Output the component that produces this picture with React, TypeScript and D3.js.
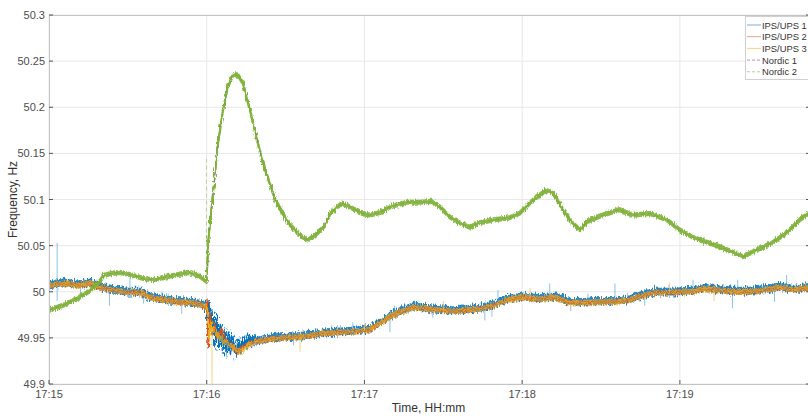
import React, { useEffect, useRef } from 'react';
import * as d3 from 'd3';

// time axis in seconds after 17:15:00
const xTickSecs = [0, 60, 120, 180, 240];
const xTickLabels = ['17:15', '17:16', '17:17', '17:18', '17:19'];
const yTicks = [49.9, 49.95, 50, 50.05, 50.1, 50.15, 50.2, 50.25, 50.3];
const seriesNames = ['IPS/UPS 1', 'IPS/UPS 2', 'IPS/UPS 3', 'Nordic 1', 'Nordic 2'];
const seriesColors = ['#0072BD', '#D95319', '#EDB120', '#7E2F8E', '#77AC30'];

// [seconds, Hz]
const ipsBefore: [number, number][] = [
  [0, 50.007], [3, 50.008], [6, 50.009], [11, 50.007], [16, 50.009], [18.6, 50.005],
  [24, 50.002], [30, 49.999], [35, 49.999], [39, 49.993], [44, 49.991], [49, 49.989],
  [54, 49.988], [57.4, 49.986],
];
const ips1Event: [number, number][] = [
  [59.5, 49.985], [60.2, 49.97], [60.8, 49.985], [61.5, 49.96], [62.2, 49.975], [63, 49.944],
  [63.6, 49.972], [64.4, 49.94], [65.2, 49.96], [66, 49.937], [66.8, 49.955], [67.6, 49.933],
  [68.4, 49.952], [69.2, 49.934], [70, 49.948], [71, 49.93], [72, 49.945], [73, 49.935],
  [74, 49.948], [75, 49.94], [76, 49.95], [77, 49.943], [78, 49.949],
];
const ips2Event: [number, number][] = [
  [59.7, 49.983], [60.2, 49.99], [60.6, 49.94], [61.2, 49.975], [62, 49.955], [63, 49.965],
  [64, 49.952], [65.5, 49.958], [67, 49.948], [68.5, 49.945], [70, 49.94], [71.5, 49.935],
  [73, 49.938], [75, 49.942], [77, 49.945],
];
const ips3Event: [number, number][] = [
  [59.8, 49.984], [60.4, 49.975], [61, 49.95], [61.6, 49.965], [62.4, 49.96], [63.5, 49.955],
  [65, 49.95], [67, 49.945], [69, 49.942], [71, 49.937], [73, 49.935], [75, 49.94], [77, 49.944],
];
const ipsAfter: [number, number][] = [
  [79, 49.946], [83, 49.948], [89, 49.95], [95.5, 49.951], [100, 49.953], [105.7, 49.955],
  [110.7, 49.956], [117, 49.957], [122, 49.959], [126, 49.966], [129.7, 49.973], [133.5, 49.978],
  [138.5, 49.983], [142, 49.982], [148.7, 49.98], [153.6, 49.979], [159, 49.98], [165, 49.982],
  [170, 49.986], [174, 49.991], [180, 49.994], [186.7, 49.992], [193, 49.994], [198, 49.988],
  [203, 49.988], [209.5, 49.989], [216, 49.989], [221, 49.991], [226, 49.996], [231, 49.999],
  [237, 49.999], [244, 50.0], [249, 50.003], [254, 50.002], [260, 50.0], [266.6, 50.0],
  [273, 50.002], [278, 50.005], [283, 50.002], [288, 50.004], [289.5, 50.004],
];
const ips1 = [...ipsBefore, ...ips1Event, ...ipsAfter];
const ips2 = [...ipsBefore, ...ips2Event, ...ipsAfter];
const ips3 = [...ipsBefore, ...ips3Event, ...ipsAfter];

// [seconds, from Hz, to Hz]
const ips1Spikes: [number, number, number][] = [
  [3.1, 49.99, 50.053], [30.8, 49.998, 50.015], [23, 49.985, 50.004], [43, 49.99, 50.0],
  [12, 50.007, 49.992], [36, 49.999, 49.987], [50.5, 49.989, 49.976],
  [107.6, 49.955, 49.964], [115.6, 49.957, 49.967], [129.7, 49.973, 49.956], [131.5, 49.975, 49.985],
  [165.8, 49.982, 49.969], [168.5, 49.986, 49.973], [170.8, 49.986, 50.002], [190.5, 49.992, 50.009],
  [205, 49.988, 49.998], [215.3, 49.989, 50.009], [226.6, 49.996, 49.985], [245, 50.0, 50.013],
  [260, 50.0, 49.982], [262, 50.0, 50.013], [276, 50.003, 49.989], [280.6, 50.004, 50.018],
  [93, 49.951, 49.942], [146, 49.981, 49.972], [198.5, 49.988, 49.979],
];
const ips3Spikes: [number, number, number][] = [
  [62, 49.96, 49.9], [95.5, 49.951, 49.935], [120, 49.958, 49.965], [236, 49.999, 50.01],
  [183, 49.993, 50.004], [150, 49.98, 49.99], [253, 50.002, 49.99],
];

const nordic: [number, number][] = [
  [0, 49.98], [6, 49.986], [11, 49.993], [15, 50.0], [18.6, 50.009], [21, 50.018], [24, 50.02],
  [27, 50.021], [31.6, 50.018], [36.5, 50.014], [40, 50.013], [43, 50.015], [48, 50.018],
  [53, 50.021], [56.7, 50.018], [60, 50.011], [60.6, 50.056], [62.4, 50.107], [64.3, 50.161],
  [66.2, 50.197], [68, 50.222], [70, 50.235], [71.9, 50.235], [73.8, 50.226], [76.4, 50.197],
  [81, 50.143], [86, 50.1], [90.9, 50.075], [96.2, 50.059], [98.5, 50.056], [102.3, 50.064],
  [105, 50.072], [107, 50.085], [111.4, 50.096], [114.5, 50.092], [119, 50.085], [122, 50.083],
  [126, 50.086], [129.7, 50.092], [136, 50.097], [141, 50.097], [145.6, 50.098], [148.7, 50.092],
  [152.5, 50.081], [156, 50.075], [160, 50.07], [164, 50.075], [169, 50.078], [175, 50.08],
  [179, 50.085], [184, 50.099], [189, 50.11], [191.7, 50.107], [195.5, 50.089], [199, 50.075],
  [202, 50.067], [204.6, 50.076], [209.6, 50.082], [217, 50.089], [222, 50.083], [228.6, 50.085],
  [235, 50.078], [240, 50.067], [245, 50.059], [250, 50.054], [255, 50.049], [260, 50.043],
  [264, 50.038], [269, 50.045], [275, 50.053], [280.7, 50.064], [285.6, 50.078], [289.5, 50.086],
];
const nordicSpikes: [number, number, number][] = [[59.9, 50.011, 50.148]];

export default function App() {
  const ref = useRef<SVGSVGElement>(null);

  useEffect(() => {
    const width = 808;
    const height = 416;
    const margin = { top: 15, left: 49, bottom: 384, right: 810 };

    const svg = d3.select(ref.current);
    svg.selectAll('*').remove();

    const x = d3.scaleLinear().domain([0, 289.5]).range([margin.left, margin.right]);
    const y = d3.scaleLinear().domain([49.9, 50.3]).range([margin.bottom, margin.top]);
    const font = 'Liberation Sans, Arial, sans-serif';

    svg.append('rect').attr('width', width).attr('height', height).attr('fill', '#fff');

    // jitter filters so the bands look like sampled noisy signals
    const defs = svg.append('defs');
    [3, 11, 23, 41].forEach((seed, i) => {
      const f = defs.append('filter').attr('id', `jit${i}`)
        .attr('filterUnits', 'userSpaceOnUse')
        .attr('x', margin.left - 5).attr('y', margin.top - 5)
        .attr('width', margin.right - margin.left + 10).attr('height', margin.bottom - margin.top + 10);
      f.append('feTurbulence').attr('type', 'fractalNoise')
        .attr('baseFrequency', '0.9 0.25').attr('numOctaves', 1).attr('seed', seed).attr('result', 't');
      f.append('feDisplacementMap').attr('in', 'SourceGraphic').attr('in2', 't')
        .attr('scale', [9, 7, 7, 5][i]).attr('xChannelSelector', 'B').attr('yChannelSelector', 'G');
    });

    // grid
    const grid = svg.append('g');
    grid.selectAll('line.gy').data(yTicks).join('line')
      .attr('x1', margin.left).attr('x2', margin.right)
      .attr('y1', d => y(d)).attr('y2', d => y(d))
      .attr('stroke', '#e8e8e8').attr('stroke-width', 1);
    grid.selectAll('line.gx').data(xTickSecs).join('line')
      .attr('x1', d => x(d)).attr('x2', d => x(d))
      .attr('y1', margin.top).attr('y2', margin.bottom)
      .attr('stroke', '#e8e8e8').attr('stroke-width', 1);

    svg.append('clipPath').attr('id', 'plotclip')
      .append('rect').attr('x', margin.left).attr('y', margin.top)
      .attr('width', margin.right - margin.left).attr('height', margin.bottom - margin.top);

    const plot = svg.append('g').attr('clip-path', 'url(#plotclip)');
    const line = d3.line<[number, number]>().x(d => x(d[0])).y(d => y(d[1]));

    const band = (data: [number, number][], color: string, offsets: number[], w: number, op: number, filt: string) => {
      const g = plot.append('g').attr('filter', `url(#${filt})`);
      offsets.forEach(dy => {
        g.append('path').attr('d', line(data))
          .attr('transform', `translate(0,${dy})`)
          .attr('fill', 'none').attr('stroke', color)
          .attr('stroke-width', w).attr('stroke-opacity', op)
          .attr('stroke-linejoin', 'round');
      });
    };
    const spikes = (data: [number, number, number][], color: string, op: number, dash?: string) => {
      plot.append('g').selectAll('line').data(data).join('line')
        .attr('x1', d => x(d[0])).attr('x2', d => x(d[0]))
        .attr('y1', d => y(d[1])).attr('y2', d => y(d[2]))
        .attr('stroke', color).attr('stroke-width', 1).attr('stroke-opacity', op)
        .attr('stroke-dasharray', dash ?? null);
    };

    band(ips1, seriesColors[0], [-4, -2.5, -1, 0.5, 2], 1.8, 0.85, 'jit0');
    spikes(ips1Spikes, '#4da3dd', 0.65);
    band(ips2, seriesColors[1], [-1.5, 0, 1.5], 1.4, 0.8, 'jit1');
    band(ips3, seriesColors[2], [-2, 0, 2], 1.4, 0.75, 'jit2');
    spikes(ips3Spikes, '#f2c45a', 0.8);
    plot.append('path').attr('d', line(nordic))
      .attr('fill', 'none').attr('stroke', seriesColors[3]).attr('stroke-width', 1)
      .attr('stroke-dasharray', '4,3');
    spikes(nordicSpikes, '#b5cf8e', 0.9, '4,3');
    band(nordic, '#7fb33a', [-1.8, -0.6, 0.6, 1.8], 1.6, 0.9, 'jit3');

    // axes box
    svg.append('rect')
      .attr('x', margin.left + 0.5).attr('y', margin.top + 0.5)
      .attr('width', margin.right - margin.left).attr('height', margin.bottom - margin.top)
      .attr('fill', 'none').attr('stroke', '#c4c4c4').attr('stroke-width', 1);

    // y ticks
    const yAxis = svg.append('g');
    yAxis.selectAll('line').data(yTicks).join('line')
      .attr('x1', margin.left).attr('x2', margin.left + 4)
      .attr('y1', d => y(d)).attr('y2', d => y(d))
      .attr('stroke', '#555');
    yAxis.selectAll('line.r').data(yTicks).join('line')
      .attr('x1', margin.right - 4).attr('x2', margin.right)
      .attr('y1', d => y(d)).attr('y2', d => y(d))
      .attr('stroke', '#555');
    yAxis.selectAll('text').data(yTicks).join('text')
      .attr('x', margin.left - 4).attr('y', d => y(d) + 4)
      .attr('text-anchor', 'end').attr('font-family', font).attr('font-size', 11)
      .attr('fill', '#4d4d4d')
      .text(d => d3.format('~g')(d));

    // x ticks
    const xAxis = svg.append('g');
    xAxis.selectAll('line').data(xTickSecs).join('line')
      .attr('x1', d => x(d)).attr('x2', d => x(d))
      .attr('y1', margin.bottom).attr('y2', margin.bottom - 4)
      .attr('stroke', '#555');
    xAxis.selectAll('text').data(xTickSecs).join('text')
      .attr('x', d => x(d)).attr('y', margin.bottom + 14)
      .attr('text-anchor', 'middle').attr('font-family', font).attr('font-size', 11)
      .attr('fill', '#4d4d4d')
      .text((d, i) => xTickLabels[i]);

    svg.append('text')
      .attr('x', (margin.left + width) / 2).attr('y', 412)
      .attr('text-anchor', 'middle').attr('font-family', font).attr('font-size', 12)
      .attr('fill', '#333').text('Time, HH:mm');
    svg.append('text')
      .attr('transform', `translate(17,${(margin.top + margin.bottom) / 2}) rotate(-90)`)
      .attr('text-anchor', 'middle').attr('font-family', font).attr('font-size', 12)
      .attr('fill', '#333').text('Frequency, Hz');

    // legend
    const lg = svg.append('g');
    lg.append('rect').attr('x', 745.5).attr('y', 16.5).attr('width', 70).attr('height', 63)
      .attr('fill', '#fff').attr('stroke', '#d0d0d0');
    seriesNames.forEach((name, i) => {
      const ly = 25 + i * 11.7;
      lg.append('line').attr('x1', 747).attr('x2', 761).attr('y1', ly).attr('y2', ly)
        .attr('stroke', seriesColors[i]).attr('stroke-opacity', 0.55)
        .attr('stroke-dasharray', i >= 3 ? '3,2' : null);
      lg.append('text').attr('x', 762).attr('y', ly + 3.5)
        .attr('font-family', font).attr('font-size', 9.4).attr('fill', '#333').text(name);
    });
  }, []);

  return (
    <div style={{ position: 'absolute', left: 0, top: 0, width: 808, height: 416 }}>
      <svg ref={ref} width={808} height={416} style={{ display: 'block' }} />
    </div>
  );
}
